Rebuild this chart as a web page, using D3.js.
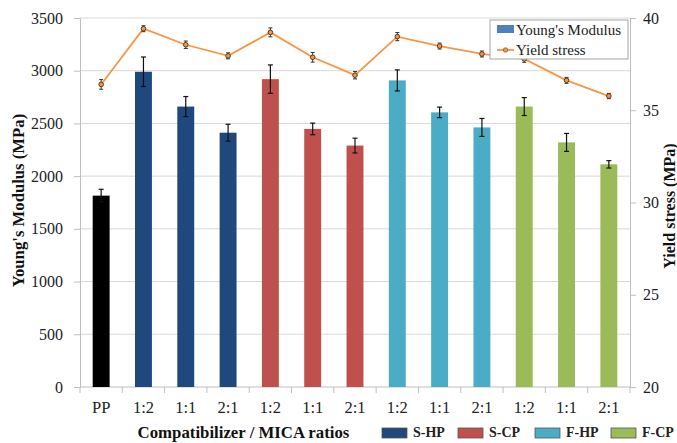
<!DOCTYPE html>
<html><head><meta charset="utf-8">
<script src="https://cdn.jsdelivr.net/npm/d3@7/dist/d3.min.js"></script>
<style>body{margin:0;background:#fff}</style>
</head><body><svg id="c" width="677" height="443"></svg>
<script>
const categories = ["PP","1:2","1:1","2:1","1:2","1:1","2:1","1:2","1:1","2:1","1:2","1:1","2:1"];
const groups = ["PP","S-HP","S-HP","S-HP","S-CP","S-CP","S-CP","F-HP","F-HP","F-HP","F-CP","F-CP","F-CP"];
const modulus = [1815,2990,2660,2412,2920,2448,2290,2908,2605,2462,2660,2320,2112];
const modulusErr = [60,140,95,80,135,55,70,100,50,85,85,85,35];
const yieldStress = [36.4,39.42,38.55,37.95,39.22,37.87,36.9,38.99,38.48,38.05,37.78,36.62,35.77];
const yieldErr = [0.18,0.08,0.12,0.08,0.16,0.18,0.12,0.14,0.08,0.08,0.1,0.08,0.06];
const leftTicks = [0,500,1000,1500,2000,2500,3000,3500];
const rightTicks = [20,25,30,35,40];
const legendGroups = ["S-HP","S-CP","F-HP","F-CP"];
const colors = {"PP":"#000000","S-HP":"#1f497d","S-CP":"#c0504d","F-HP":"#4bacc6","F-CP":"#9bbb59"};

const FONT = "Liberation Serif";
const svg = d3.select("#c");
const L=80,R=630,T=18,B=387;
const x = d3.scaleBand().domain(d3.range(categories.length)).range([L,R]).paddingInner(0.6).paddingOuter(0.3);
const xb = d3.scaleBand().domain(d3.range(categories.length)).range([L,R]);
const y = d3.scaleLinear().domain([0,3500]).range([B,T]);
const y2 = d3.scaleLinear().domain([20,40]).range([B,T]);

// gridlines
svg.append("g").selectAll("line").data(leftTicks.slice(1)).join("line")
 .attr("x1",L).attr("x2",R).attr("y1",d=>y(d)).attr("y2",d=>y(d))
 .attr("stroke","#d9d9d9").attr("stroke-width",1);

// left axis
const ga = svg.append("g").attr("transform",`translate(${L},0)`)
 .call(d3.axisLeft(y).tickValues(leftTicks).tickFormat(d3.format("d")).tickSize(6).tickPadding(11));
ga.select(".domain").attr("stroke","#bfbfbf");
ga.selectAll(".tick line").attr("stroke","#bfbfbf");
ga.selectAll("text").attr("font-size",16).attr("fill","#222");

// right axis
const gr = svg.append("g").attr("transform",`translate(${R},0)`)
 .call(d3.axisRight(y2).tickValues(rightTicks).tickFormat(d3.format("d")).tickSize(6).tickPadding(7));
gr.select(".domain").attr("stroke","#bfbfbf");
gr.selectAll(".tick line").attr("stroke","#bfbfbf");
gr.selectAll("text").attr("font-size",16).attr("fill","#222");

// bottom axis
const gb = svg.append("g").attr("transform",`translate(0,${B})`);
gb.append("line").attr("x1",L).attr("x2",R).attr("stroke","#bfbfbf");
gb.selectAll("line.t").data(d3.range(categories.length+1)).join("line").attr("class","t")
 .attr("x1",i=>L+i*xb.bandwidth()).attr("x2",i=>L+i*xb.bandwidth()).attr("y1",0).attr("y2",6).attr("stroke","#bfbfbf");
gb.selectAll("text").data(categories).join("text")
 .attr("x",(d,i)=>xb(i)+xb.bandwidth()/2).attr("y",26).attr("text-anchor","middle")
 .attr("font-size",16.5).attr("fill","#222").text(d=>d);

// bars
svg.append("g").selectAll("rect").data(modulus).join("rect")
 .attr("x",(d,i)=>x(i)).attr("width",x.bandwidth())
 .attr("y",d=>y(d)).attr("height",d=>B-y(d))
 .attr("fill",(d,i)=>colors[groups[i]]);

// bar error bars
const eb = svg.append("g").attr("stroke","#111").attr("stroke-width",1.2);
modulus.forEach((d,i)=>{
 const cx = x(i)+x.bandwidth()/2;
 const e = modulusErr[i];
 eb.append("line").attr("x1",cx).attr("x2",cx).attr("y1",y(d+e)).attr("y2",y(d-e));
 eb.append("line").attr("x1",cx-2.5).attr("x2",cx+2.5).attr("y1",y(d+e)).attr("y2",y(d+e));
 eb.append("line").attr("x1",cx-2.5).attr("x2",cx+2.5).attr("y1",y(d-e)).attr("y2",y(d-e));
});

// yield line
const cxs = i=>xb(i)+xb.bandwidth()/2;
svg.append("path").datum(yieldStress)
 .attr("d",d3.line().x((d,i)=>cxs(i)).y(d=>y2(d)))
 .attr("fill","none").attr("stroke","#f79646").attr("stroke-width",1.8);
const ye = svg.append("g").attr("stroke","#333").attr("stroke-width",1);
yieldStress.forEach((d,i)=>{
 const cx=cxs(i), e=yieldErr[i];
 ye.append("line").attr("x1",cx).attr("x2",cx).attr("y1",y2(d+e)-1.5).attr("y2",y2(d-e)+1.5);
 ye.append("line").attr("x1",cx-2).attr("x2",cx+2).attr("y1",y2(d+e)-1.5).attr("y2",y2(d+e)-1.5);
 ye.append("line").attr("x1",cx-2).attr("x2",cx+2).attr("y1",y2(d-e)+1.5).attr("y2",y2(d-e)+1.5);
});
svg.append("g").selectAll("circle").data(yieldStress).join("circle")
 .attr("cx",(d,i)=>cxs(i)).attr("cy",d=>y2(d)).attr("r",2.3)
 .attr("fill","#f79646").attr("stroke","#5a3a1a").attr("stroke-width",1);

// legend box
const lg = svg.append("g");
lg.append("rect").attr("x",490).attr("y",20).attr("width",138).attr("height",39)
 .attr("fill","#fff").attr("stroke","#a6a6a6").attr("stroke-width",1);
lg.append("rect").attr("x",497).attr("y",25).attr("width",17).attr("height",8).attr("fill","#4f81bd");
lg.append("text").attr("x",516).attr("y",35).attr("font-size",15).attr("fill","#222").text("Young's Modulus");
lg.append("line").attr("x1",497).attr("x2",514).attr("y1",50).attr("y2",50).attr("stroke","#f79646").attr("stroke-width",1.8);
lg.append("circle").attr("cx",505.5).attr("cy",50).attr("r",2.2).attr("fill","#f79646").attr("stroke","#8a5a2a").attr("stroke-width",0.8);
lg.append("text").attr("x",516).attr("y",55).attr("font-size",15).attr("fill","#222").text("Yield stress");

// bottom legend
const bl = svg.append("g");
const blX = [382,458,535,611];
legendGroups.forEach((g,i)=>{
 bl.append("rect").attr("x",blX[i]).attr("y",428).attr("width",25).attr("height",10)
  .attr("fill",colors[g]).attr("stroke","#555").attr("stroke-width",0.8);
 bl.append("text").attr("x",blX[i]+31).attr("y",437).attr("font-size",14).attr("font-weight","bold").attr("fill","#222").text(g);
});

// axis titles
svg.append("text").attr("x",243.5).attr("y",438).attr("text-anchor","middle").attr("font-size",16.8)
 .attr("font-weight","bold").attr("fill","#111").text("Compatibilizer / MICA ratios");
svg.append("text").attr("transform","translate(24,200.5) rotate(-90)").attr("text-anchor","middle")
 .attr("font-size",16.7).attr("font-weight","bold").attr("fill","#111").text("Young's Modulus (MPa)");
svg.append("text").attr("transform","translate(675,206) rotate(-90)").attr("text-anchor","middle")
 .attr("font-size",16).attr("font-weight","bold").attr("fill","#111").text("Yield stress (MPa)");
svg.selectAll("text").attr("font-family",FONT);
</script></body></html>
